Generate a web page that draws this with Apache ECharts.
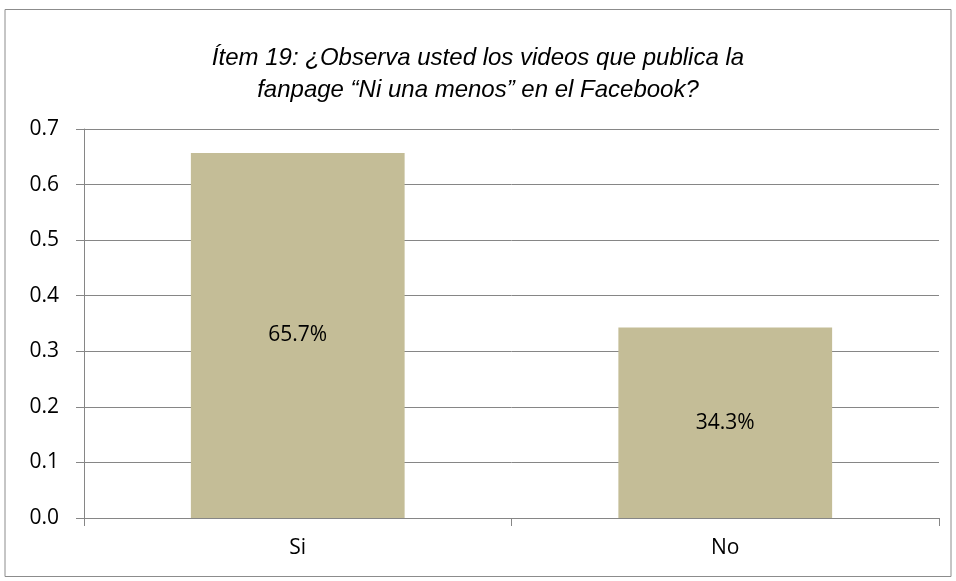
<!DOCTYPE html>
<html><head><meta charset="utf-8">
<script src="https://cdn.jsdelivr.net/npm/echarts@6/dist/echarts.min.js"></script>
<style>html,body{margin:0;padding:0;background:#fff}#c{width:956px;height:581px}</style>
</head><body><div id="c"></div>
<script>
const categories = ["Si", "No"];
const values = [0.657, 0.343];
const labels = ["65.7%", "34.3%"];
const titleLines = ["Ítem 19: ¿Observa usted los videos que publica la", "fanpage \u201cNi una menos\u201d en el Facebook?"];

const chart = echarts.init(document.getElementById('c'));
chart.setOption({
  animation: false,
  backgroundColor: '#fff',
  title: {
    text: titleLines.join('\n'),
    left: 'center', top: 37,
    textStyle: {fontFamily: 'Liberation Sans', fontStyle: 'italic', fontWeight: 'normal', fontSize: 24, color: '#000', lineHeight: 32}
  },
  graphic: [{type: 'rect', shape: {x: 5, y: 9.5, width: 946, height: 567}, style: {fill: 'none', stroke: '#8c8c8c', lineWidth: 1}, silent: true}],
  grid: {left: 84, right: 17, top: 129, bottom: 63},
  xAxis: {
    type: 'category', data: categories,
    axisLine: {lineStyle: {color: '#868686', width: 1}},
    axisTick: {show: true, length: 8, lineStyle: {color: '#868686'}},
    axisLabel: {fontFamily: 'Open Sans', fontSize: 21, color: '#000', margin: 20}
  },
  yAxis: {
    type: 'value', min: 0, max: 0.7, interval: 0.1,
    axisLine: {show: true, lineStyle: {color: '#868686'}},
    axisTick: {show: true, length: 8, lineStyle: {color: '#868686'}},
    splitLine: {lineStyle: {color: '#868686', width: 1}},
    axisLabel: {fontFamily: 'Open Sans', fontSize: 21, color: '#000', margin: 25, formatter: v => v.toFixed(1)}
  },
  series: [{
    type: 'bar', data: values, barWidth: '50%',
    itemStyle: {color: '#C4BD97'},
    label: {show: true, position: 'inside', fontFamily: 'Open Sans', fontSize: 21, color: '#000',
      formatter: p => labels[p.dataIndex]}
  }]
});
</script></body></html>
